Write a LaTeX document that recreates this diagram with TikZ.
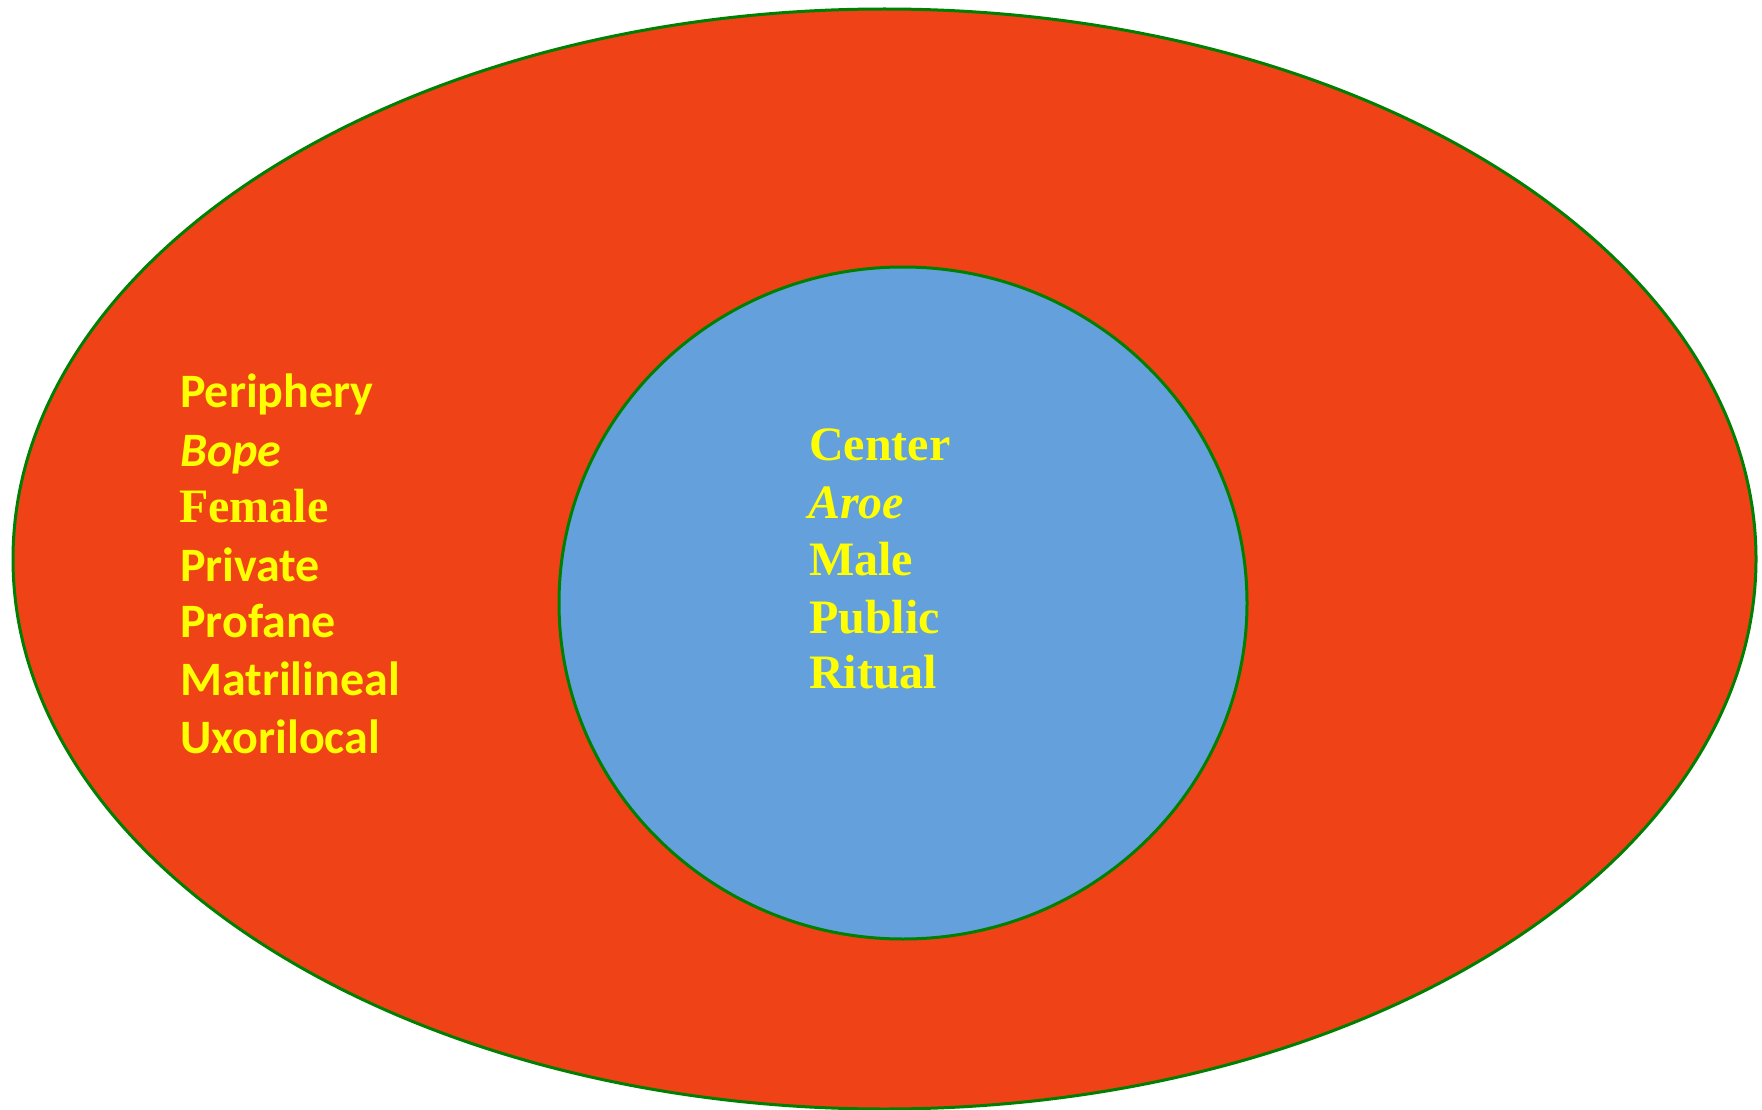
\documentclass[tikz,border=0pt]{standalone}
\usepackage{fontspec}
\setmainfont{Liberation Serif}
\newfontfamily\calib{Carlito}
\definecolor{outerred}{RGB}{240,66,23}
\definecolor{innerblue}{RGB}{100,161,220}
\definecolor{rimgreen}{RGB}{0,128,0}
\definecolor{wordyellow}{RGB}{255,255,0}
\begin{document}
\begin{tikzpicture}[x=1pt,y=-1pt,
  ring/.style={draw=rimgreen, line width=3pt},
  word/.style={anchor=base west, inner sep=0pt, text=wordyellow},
  sansword/.style={word, font=\calib\bfseries\fontsize{48}{48}\selectfont},
  sansital/.style={word, font=\calib\bfseries\itshape\fontsize{48}{48}\selectfont},
  serifword/.style={word, font=\bfseries\fontsize{48}{48}\selectfont},
  serifital/.style={word, font=\bfseries\itshape\fontsize{48}{48}\selectfont}]
\useasboundingbox (0,0) rectangle (1762,1110);
% outer domain and inner core
\draw[ring, fill=outerred] (884.5,559) ellipse [x radius=871.5, y radius=550];
\draw[ring, fill=innerblue] (903,603) ellipse [x radius=344, y radius=336];
% attributes of the periphery
\node[sansword]  (periphery)   at (180,407) {Periphery};
\node[sansital]  (bope)        at (180,466) {Bope};
\node[serifword] (female)      at (179,522) {Female};
\node[sansword]  (private)     at (180,581) {Private};
\node[sansword]  (profane)     at (180,637) {Profane};
\node[sansword]  (matrilineal) at (180,695) {Matrilineal};
\node[sansword]  (uxorilocal)  at (180,753) {Uxorilocal};
% attributes of the center
\node[serifword] (center) at (809,460) {Center};
\node[serifital] (aroe)   at (808,518) {Aroe};
\node[serifword] (male)   at (809,575) {Male};
\node[serifword] (public) at (809,633) {Public};
\node[serifword] (ritual) at (809,688) {Ritual};
\end{tikzpicture}
\end{document}
